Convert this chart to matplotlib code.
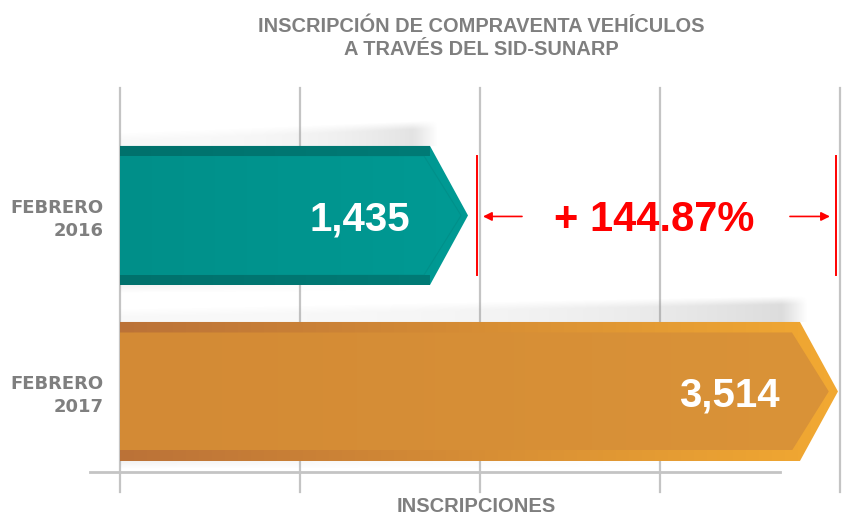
import numpy as np
import matplotlib
matplotlib.use("Agg")
import matplotlib.pyplot as plt
from matplotlib.patches import Polygon
from matplotlib.colors import LinearSegmentedColormap

# data
categories = ["FEBRERO\n2016", "FEBRERO\n2017"]
values = [1435, 3514]
value_labels = ["1,435", "3,514"]
change_label = "+ 144.87%"
title = "INSCRIPCIÓN DE COMPRAVENTA VEHÍCULOS\nA TRAVÉS DEL SID-SUNARP"
xlabel = "INSCRIPCIONES"

W, H = 846, 515
fig = plt.figure(figsize=(W / 100, H / 100), dpi=100)
ax = fig.add_axes([120 / W, (H - 492) / H, 720 / W, 404 / H])

XMIN, XMAX = -307, 3739
ax.set_xlim(XMIN, XMAX)
ax.set_ylim(1.571, -0.724)
PX = (XMAX - XMIN) / 720.0   # data units per pixel (x)
PY = 1 / 176.0               # data units per pixel (y)
HEAD = 38 * PX
BAR_H = 139 * PY
STRIP = 10 * PY

grey = "#7f7f7f"
for s in ax.spines.values():
    s.set_visible(False)
ax.set_xticks(np.linspace(XMIN, XMAX, 5))
ax.tick_params(axis="x", length=0, labelbottom=False)
ax.grid(axis="x", color="#c4c4c4", lw=1.6)
for gl in ax.get_xgridlines():
    gl.set_clip_on(False)
ax.set_axisbelow(True)
ax.set_yticks(range(len(categories)))
ax.set_yticklabels(categories, fontsize=13, fontweight="bold", color=grey,
                   linespacing=1.35, family="DejaVu Sans")
ax.tick_params(axis="y", length=0, pad=12)
ax.axhline(1.46, xmin=-30 / 720, xmax=660 / 720, color="#c4c4c4", lw=2,
           clip_on=False, zorder=1)


def chevron(v, yc, inset_x=0.0, inset_y=0.0):
    top, bot = yc - BAR_H / 2 + inset_y, yc + BAR_H / 2 - inset_y
    return [(XMIN, top), (v - inset_x, top), (v + HEAD - inset_x * 1.15, yc),
            (v - inset_x, bot), (XMIN, bot)]


def grad_fill(pts, c1, c2, z):
    patch = Polygon(pts, closed=True, fc="none", ec="none")
    ax.add_patch(patch)
    xs = [p[0] for p in pts]
    ys = [p[1] for p in pts]
    cmap = LinearSegmentedColormap.from_list("g", [c1, c2])
    im = ax.imshow(np.linspace(0, 1, 256).reshape(1, -1), cmap=cmap,
                   extent=(min(xs), max(xs), max(ys), min(ys)),
                   aspect="auto", zorder=z, interpolation="bilinear")
    im.set_clip_path(patch)


def shadow(v, yc):
    top = yc - BAR_H / 2
    x = np.linspace(XMIN, v + HEAD, 300)
    d = np.linspace(0, 30, 60)  # px above bar
    xf = (x - XMIN) / (v + HEAD - XMIN)
    edge = 9 + 13 * xf
    D, E = np.meshgrid(d, edge, indexing="ij")
    XF = np.meshgrid(d, xf, indexing="ij")[1]
    a = np.clip((E + 4 - D) / 8, 0, 1)
    a *= 0.05 + 0.28 * XF ** 3
    fade = np.clip((v + 8 * PX - x) / (25 * PX), 0, 1)
    a *= fade[None, :]
    img = np.zeros(a.shape + (4,))
    img[..., :3] = 0.5
    img[..., 3] = a
    ax.imshow(img, extent=(XMIN, v + HEAD, top, top - 30 * PY), origin="lower",
              aspect="auto", zorder=1.5, interpolation="bilinear")
    # faint shadow under the bar
    bot = yc + BAR_H / 2
    d2 = np.linspace(0, 8, 20)
    a2 = np.clip(1 - d2 / 8, 0, 1)[:, None] * (0.12 * (1 - xf) ** 2)[None, :]
    img2 = np.zeros(a2.shape + (4,))
    img2[..., :3] = 0.5
    img2[..., 3] = a2
    ax.imshow(img2, extent=(XMIN, v + HEAD, bot + 8 * PY, bot),
              aspect="auto", zorder=1.5, interpolation="bilinear")


# bar 2016 (teal)
v, yc = values[0], 0
shadow(v, yc)
grad_fill(chevron(v, yc), "#008f89", "#009a94", 2)
ax.add_patch(Polygon(chevron(v, yc, 6 * PX, 10 * PY), closed=True,
                     fc="none", ec="#00908a", lw=0.8, zorder=2.5))
for y0 in (yc - BAR_H / 2, yc + BAR_H / 2 - STRIP):
    grad_fill([(XMIN, y0), (v, y0), (v, y0 + STRIP), (XMIN, y0 + STRIP)],
              "#00716c", "#007b76", 3)

# bar 2017 (orange)
v, yc = values[1], 1
shadow(v, yc)
grad_fill(chevron(v, yc), "#bb7238", "#f2a932", 2)
grad_fill(chevron(v, yc, 8 * PX, 10.5 * PY), "#d38a35", "#da9338", 3)

# value labels
for v, yc, lab in zip(values, range(2), value_labels):
    ax.text(v - 20 * PX, yc + 15.5 * PY, lab, ha="right", va="baseline",
            color="white", fontsize=29, fontweight="bold",
            family="Liberation Sans", zorder=5)

# change annotation
red = "#ff0000"
xl = values[0] + HEAD + 9 * PX
xr = values[1] + HEAD - 2 * PX
for xx in (xl, xr):
    ax.plot([xx, xx], [-0.34, 0.34], color=red, lw=1.4, zorder=5)
ya = 1 * PY
ax.annotate("", xy=(xl + 6 * PX, ya), xytext=(xl + 45 * PX, ya),
            arrowprops=dict(arrowstyle="-|>", color=red, lw=1.2,
                            mutation_scale=13, shrinkA=0, shrinkB=0), zorder=5)
ax.annotate("", xy=(xr - 6 * PX, ya), xytext=(xr - 46 * PX, ya),
            arrowprops=dict(arrowstyle="-|>", color=red, lw=1.2,
                            mutation_scale=13, shrinkA=0, shrinkB=0), zorder=5)
ax.text((xl + xr) / 2 - 2 * PX, 15.5 * PY, change_label, ha="center",
        va="baseline", color=red, fontsize=30, fontweight="bold",
        family="Liberation Sans", zorder=5)

fig.text(481 / W, 1 - 38 / H, title, ha="center", va="center", color=grey,
         fontsize=14.4, fontweight="bold", family="Liberation Sans",
         linespacing=1.25)
fig.text(476 / W, 1 - 506 / H, xlabel, ha="center", va="center", color=grey,
         fontsize=14.5, fontweight="bold", family="Liberation Sans")

fig.savefig("out.png", dpi=100)
